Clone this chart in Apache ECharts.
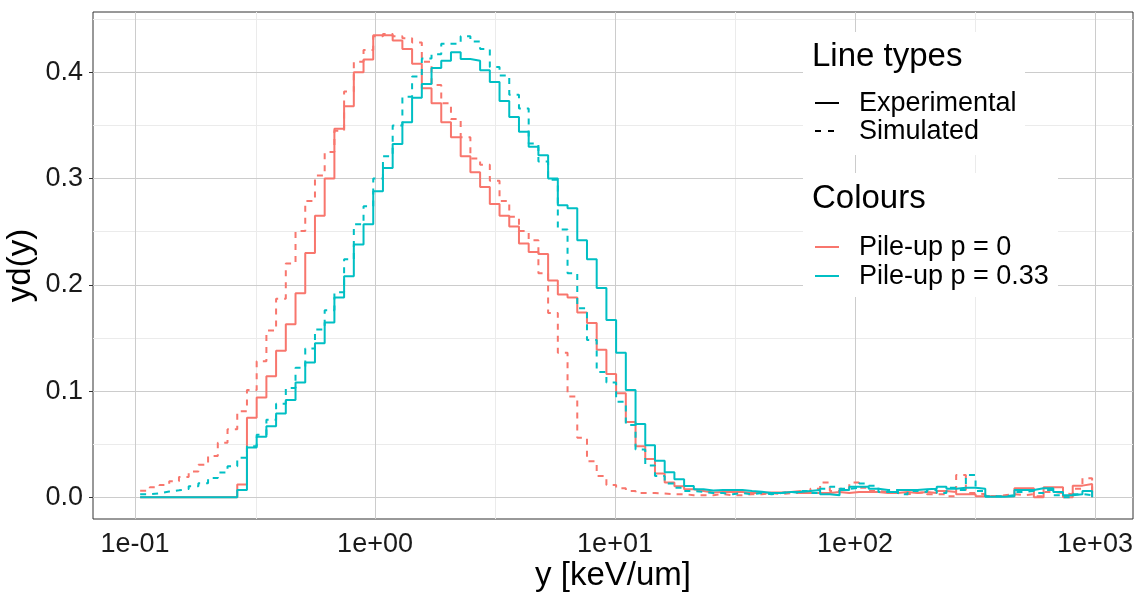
<!DOCTYPE html>
<html>
<head>
<meta charset="utf-8">
<script src="https://cdn.jsdelivr.net/npm/echarts@6/dist/echarts.min.js"></script>
<style>
html,body{margin:0;padding:0;background:#ffffff;}
#chart{width:1143px;height:593px;}
</style>
</head>
<body>
<div id="chart"></div>
<script>
// Bin centres of the lineal-energy histogram (keV/um), read from the step positions
const binCentres = [0.1050, 0.1152, 0.1265, 0.1388, 0.1524, 0.1673, 0.1836, 0.2015, 0.2212, 0.2428,
  0.2666, 0.2926, 0.3212, 0.3526, 0.3870, 0.4248, 0.4663, 0.5119, 0.5619, 0.6168,
  0.6771, 0.7432, 0.8158, 0.8955, 0.9829, 1.0789, 1.1843, 1.3000, 1.4270, 1.5664,
  1.7195, 1.8875, 2.0719, 2.2743, 2.4965, 2.7404, 3.0081, 3.3020, 3.6246, 3.9787,
  4.3674, 4.7941, 5.2625, 5.7767, 6.3410, 6.9605, 7.6405, 8.3870, 9.2063, 10.105,
  11.092, 12.176, 13.365, 14.671, 16.105, 17.678, 19.405, 21.301, 23.382, 25.667,
  28.174, 30.927, 33.948, 37.265, 40.905, 44.902, 49.288, 54.104, 59.389, 65.191,
  71.560, 78.551, 86.226, 94.650, 103.90, 114.04, 125.18, 137.41, 150.84, 165.58,
  181.75, 199.51, 219.00, 240.40, 263.89, 289.67, 317.97, 349.04, 383.14, 420.57,
  461.66, 506.76, 556.27, 610.62, 670.27, 735.76, 807.64, 886.55, 972.84];

// Experimental, pile-up p = 0 (red, solid)
const expP0 = [0, 0, 0, 0, 0, 0, 0, 0, 0, 0,
  0.012, 0.075, 0.094, 0.114, 0.138, 0.163, 0.192, 0.230, 0.265, 0.300,
  0.347, 0.368, 0.400, 0.412, 0.435, 0.435, 0.430, 0.422, 0.408, 0.385,
  0.371, 0.353, 0.339, 0.321, 0.306, 0.292, 0.276, 0.265, 0.255, 0.239,
  0.231, 0.229, 0.204, 0.191, 0.188, 0.174, 0.164, 0.139, 0.116, 0.098,
  0.071, 0.048, 0.036, 0.0225, 0.014, 0.0105, 0.0075, 0.006, 0.0045, 0.005,
  0.005, 0.005, 0.004, 0.004, 0.0045, 0.0045, 0.005, 0.006, 0.004, 0.004,
  0.004, 0.005, 0.004, 0.005, 0.005, 0.005, 0.004, 0.004, 0.005, 0.004,
  0.005, 0.004, 0.006, 0.005, 0.003, 0.003, 0.001, 0.001, 0.001, 0.001,
  0.0085, 0.0085, 0, 0.0095, 0.0095, 0, 0.011, 0.0126, 0];

// Simulated, pile-up p = 0 (red, dashed)
const simP0 = [0.0063, 0.0095, 0.0117, 0.0151, 0.0192, 0.0243, 0.0306, 0.0388, 0.0514, 0.064,
  0.081, 0.101, 0.128, 0.157, 0.187, 0.220, 0.2506, 0.279, 0.303, 0.325,
  0.345, 0.382, 0.410, 0.421, 0.434, 0.436, 0.434, 0.432, 0.428, 0.410,
  0.388, 0.371, 0.356, 0.339, 0.319, 0.313, 0.298, 0.279, 0.264, 0.2506,
  0.242, 0.211, 0.1736, 0.136, 0.095, 0.056, 0.034, 0.020, 0.0116, 0.0085,
  0.006, 0.004, 0.004, 0.0035, 0.003, 0.003, 0.002, 0.002, 0.002, 0.003,
  0.002, 0.002, 0.003, 0.003, 0.004, 0.003, 0.004, 0.004, 0.005, 0.008,
  0.014, 0.006, 0.008, 0.014, 0.009, 0.006, 0.005, 0.004, 0.003, 0.004,
  0.005, 0.003, 0.003, 0.001, 0.021, 0.004, 0.003, 0.001, 0.002, 0.003,
  0.002, 0.003, 0.001, 0.005, 0.004, 0.003, 0.008, 0.018, 0];

// Experimental, pile-up p = 0.33 (teal, solid)
const expP033 = [0, 0, 0, 0, 0, 0, 0, 0, 0, 0,
  0.007, 0.047, 0.057, 0.067, 0.079, 0.0915, 0.108, 0.127, 0.145, 0.1645,
  0.188, 0.208, 0.238, 0.257, 0.288, 0.310, 0.3325, 0.353, 0.376, 0.389,
  0.404, 0.411, 0.419, 0.4125, 0.411, 0.402, 0.391, 0.373, 0.358, 0.344,
  0.330, 0.322, 0.300, 0.275, 0.272, 0.242, 0.224, 0.197, 0.167, 0.136,
  0.101, 0.069, 0.049, 0.0345, 0.0235, 0.017, 0.0107, 0.0075, 0.0065, 0.007,
  0.007, 0.007, 0.006, 0.0053, 0.004, 0.004, 0.005, 0.005, 0.006, 0.007,
  0.003, 0.002, 0.007, 0.010, 0.010, 0.008, 0.007, 0.005, 0.007, 0.007,
  0.0075, 0.008, 0.010, 0.008, 0.009, 0.009, 0.008, 0.0005, 0.0005, 0.001,
  0.007, 0.007, 0.0085, 0.0085, 0.005, 0.002, 0.003, 0.006, 0];

// Simulated, pile-up p = 0.33 (teal, dashed)
const simP033 = [0.003, 0.0038, 0.0054, 0.0066, 0.0079, 0.0104, 0.0132, 0.0183, 0.0233, 0.0293,
  0.0372, 0.048, 0.059, 0.073, 0.088, 0.103, 0.122, 0.140, 0.158, 0.176,
  0.193, 0.224, 0.257, 0.274, 0.300, 0.321, 0.350, 0.377, 0.396, 0.413,
  0.417, 0.427, 0.427, 0.434, 0.429, 0.422, 0.405, 0.397, 0.379, 0.366,
  0.333, 0.316, 0.299, 0.252, 0.211, 0.178, 0.148, 0.118, 0.108, 0.090,
  0.068, 0.045, 0.030, 0.020, 0.013, 0.009, 0.006, 0.005, 0.004, 0.004,
  0.003, 0.004, 0.003, 0.004, 0.003, 0.004, 0.005, 0.004, 0.006, 0.004,
  0.008, 0.010, 0.008, 0.009, 0.013, 0.011, 0.005, 0.007, 0.003, 0.006,
  0.005, 0.007, 0.004, 0.009, 0.007, 0.021, 0.006, 0.001, 0.001, 0.002,
  0.005, 0.006, 0.004, 0.007, 0.002, 0, 0.003, 0.002, 0];

const xMajorBreaks = [0.1, 1, 10, 100, 1000];
const xMinorBreaks = [0.3162, 3.162, 31.62, 316.2];
const yMajorBreaks = [0, 0.1, 0.2, 0.3, 0.4];
const yMinorBreaks = [0.05, 0.15, 0.25, 0.35, 0.45];

const colourP0 = '#F8766D';
const colourP033 = '#00BFC4';
const FONT = '"Liberation Sans", Arial, Helvetica, sans-serif';
const TITLE_SIZE = 33;
const TEXT_SIZE = 27;

function pairs(arr) { return binCentres.map((x, i) => [x, arr[i]]); }
function expLabel(v) {
  const e = Math.round(Math.log10(v));
  return '1e' + (e < 0 ? '-' : '+') + String(Math.abs(e)).padStart(2, '0');
}

const gridLines = [];
xMinorBreaks.forEach(v => gridLines.push({ xAxis: v, lineStyle: { color: '#ebebeb', width: 1, type: 'solid' } }));
yMinorBreaks.forEach(v => gridLines.push({ yAxis: v, lineStyle: { color: '#ebebeb', width: 1, type: 'solid' } }));
xMajorBreaks.forEach(v => gridLines.push({ xAxis: v, lineStyle: { color: '#cccccc', width: 1, type: 'solid' } }));
yMajorBreaks.forEach(v => gridLines.push({ yAxis: v, lineStyle: { color: '#cccccc', width: 1, type: 'solid' } }));

function stepSeries(name, arr, colour, dashed) {
  return {
    name: name, type: 'line', step: 'end', data: pairs(arr),
    showSymbol: false, symbol: 'none', z: 5, animation: false,
    lineStyle: { color: colour, width: 2, type: dashed ? [6, 6] : 'solid' },
    emphasis: { disabled: true }
  };
}

function legendText(x, y, text, size) {
  return { type: 'text', z: 51, x: x, y: y, style: { text: text, fontFamily: FONT, fontSize: size, fill: '#000', verticalAlign: 'middle', textVerticalAlign: 'middle' } };
}

const chart = echarts.init(document.getElementById('chart'), null, { renderer: 'canvas' });
chart.setOption({
  animation: false,
  backgroundColor: '#ffffff',
  grid: { left: 93, right: 10, top: 12, bottom: 74, show: true, borderColor: '#333333', borderWidth: 1, backgroundColor: 'transparent', containLabel: false, outerBoundsMode: 'none' },
  xAxis: {
    type: 'log', logBase: 10, min: 0.0668, max: 1440,
    name: 'y [keV/um]', nameLocation: 'middle', nameGap: 40, nameMoveOverlap: false,
    nameTextStyle: { fontFamily: FONT, fontSize: TITLE_SIZE, color: '#000' },
    axisLine: { show: false },
    axisTick: { show: true, length: 4, lineStyle: { color: '#333', width: 1 }, customValues: xMajorBreaks },
    axisLabel: { customValues: xMajorBreaks, formatter: expLabel, fontFamily: FONT, fontSize: TEXT_SIZE, color: '#1a1a1a', margin: 12 },
    splitLine: { show: false }, minorSplitLine: { show: false }
  },
  yAxis: {
    type: 'value', min: -0.0204, max: 0.4568,
    name: 'yd(y)', nameLocation: 'middle', nameGap: 56, nameRotate: 90, nameMoveOverlap: false,
    nameTextStyle: { fontFamily: FONT, fontSize: TITLE_SIZE, color: '#000' },
    axisLine: { show: false },
    axisTick: { show: true, length: 4, lineStyle: { color: '#333', width: 1 }, customValues: yMajorBreaks },
    axisLabel: { customValues: yMajorBreaks, formatter: v => v.toFixed(1), fontFamily: FONT, fontSize: TEXT_SIZE, color: '#1a1a1a', margin: 10 },
    splitLine: { show: false }, minorSplitLine: { show: false }
  },
  series: [
    {
      name: 'grid', type: 'line', data: [[1, 0]], showSymbol: false, symbol: 'none', z: 1,
      lineStyle: { opacity: 0 }, silent: true, animation: false,
      markLine: { silent: true, symbol: ['none', 'none'], label: { show: false }, animation: false, data: gridLines }
    },
    stepSeries('Experimental, Pile-up p = 0', expP0, colourP0, false),
    stepSeries('Simulated, Pile-up p = 0', simP0, colourP0, true),
    stepSeries('Experimental, Pile-up p = 0.33', expP033, colourP033, false),
    stepSeries('Simulated, Pile-up p = 0.33', simP033, colourP033, true)
  ],
  graphic: [
    { type: 'rect', z: 50, silent: true, shape: { x: 803, y: 32, width: 222, height: 123 }, style: { fill: '#ffffff' } },
    { type: 'rect', z: 50, silent: true, shape: { x: 803, y: 173, width: 255, height: 124 }, style: { fill: '#ffffff' } },
    legendText(812, 57, 'Line types', TITLE_SIZE),
    { type: 'line', z: 51, shape: { x1: 815, y1: 103, x2: 839, y2: 103 }, style: { stroke: '#000', lineWidth: 2 } },
    { type: 'line', z: 51, shape: { x1: 815, y1: 131, x2: 839, y2: 131 }, style: { stroke: '#000', lineWidth: 2, lineDash: [6, 7] } },
    legendText(859, 104, 'Experimental', TEXT_SIZE),
    legendText(859, 132, 'Simulated', TEXT_SIZE),
    legendText(812, 199, 'Colours', TITLE_SIZE),
    { type: 'line', z: 51, shape: { x1: 815, y1: 247, x2: 839, y2: 247 }, style: { stroke: colourP0, lineWidth: 2 } },
    { type: 'line', z: 51, shape: { x1: 815, y1: 276, x2: 839, y2: 276 }, style: { stroke: colourP033, lineWidth: 2 } },
    legendText(859, 248, 'Pile-up p = 0', TEXT_SIZE),
    legendText(859, 277, 'Pile-up p = 0.33', TEXT_SIZE)
  ]
});
</script>
</body>
</html>
